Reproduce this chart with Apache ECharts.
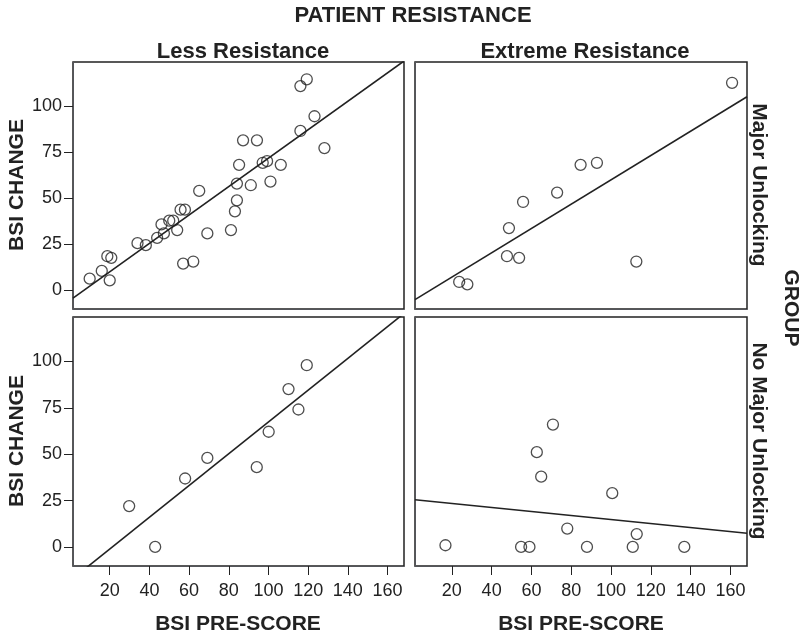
<!DOCTYPE html>
<html>
<head>
<meta charset="utf-8">
<script src="https://cdn.jsdelivr.net/npm/echarts@6/dist/echarts.min.js"></script>
<style>
  html, body { margin: 0; padding: 0; background: #fff; }
  #chart { width: 806px; height: 639px; }
</style>
</head>
<body>
<div id="chart"></div>
<script>
// BSI pre-score (x) vs BSI change (y), one array pair per panel
var lessMajorX = [9.9, 16.0, 18.8, 20.8, 20.0, 34.0, 38.2, 43.9, 46.1, 47.3, 50.0, 52.0, 54.0, 55.7, 57.9, 57.0, 62.1, 65.1, 69.2, 81.1, 83.1, 84.1, 84.1, 85.2, 87.2, 91.1, 94.2, 97.1, 99.3, 101.0, 106.2, 116.1, 116.1, 119.3, 123.2, 128.2];
var lessMajorY = [6.2, 10.4, 18.4, 17.5, 5.3, 25.5, 24.4, 28.4, 35.7, 30.8, 37.7, 37.7, 32.6, 43.7, 43.7, 14.4, 15.5, 53.9, 30.8, 32.6, 42.8, 48.8, 57.9, 68.1, 81.4, 57.0, 81.4, 69.2, 70.1, 59.0, 68.1, 86.5, 110.9, 114.6, 94.5, 77.2];
var extremeMajorX = [160.8, 84.7, 92.9, 72.9, 55.8, 48.7, 47.7, 53.8, 112.7, 23.7, 27.8];
var extremeMajorY = [112.7, 68.1, 69.2, 53.0, 47.9, 33.7, 18.4, 17.5, 15.5, 4.4, 3.1];
var lessNoMajorX = [29.8, 42.9, 58.0, 69.2, 94.1, 100.1, 110.1, 115.1, 119.3];
var lessNoMajorY = [22.0, 0, 36.9, 48.0, 43.0, 62.1, 85.1, 74.1, 98.0];
var extremeNoMajorX = [16.8, 54.8, 59.0, 62.7, 64.9, 70.8, 78.0, 87.9, 100.6, 110.9, 112.9, 136.8];
var extremeNoMajorY = [0.9, 0, 0, 51.1, 37.9, 66.0, 9.9, 0, 29.0, 0, 6.9, 0];

// fit lines: [intercept, slope] per panel (TL, TR, BL, BR)
var fitIntercept = [-5.56, -6.16, -18.3, 25.57];
var fitSlope = [0.773, 0.661, 0.857, -0.108];

var xTicks = [20, 40, 60, 80, 100, 120, 140, 160];
var yTicks = [0, 25, 50, 75, 100];
var colTitles = ['Less Resistance', 'Extreme Resistance'];
var rowTitles = ['Major Unlocking', 'No Major Unlocking'];

var xMin = 1.5, xMax = 168.3;
var yMin = -10.3, yMax = 124;

var font = '"Liberation Sans", Arial, Helvetica, sans-serif';
var ink = '#222';

var myChart = echarts.init(document.getElementById('chart'));

var grids = [
    { left: 73, top: 62, width: 331, height: 247 },
    { left: 415, top: 62, width: 332, height: 247 },
    { left: 73, top: 317, width: 331, height: 249 },
    { left: 415, top: 317, width: 332, height: 249 }
];
grids.forEach(function (g) {
    g.show = true;
    g.borderColor = ink;
    g.borderWidth = 1.5;
});

// axis pieces per panel
var xAxes = [], yAxes = [];
for (var i = 0; i < 4; i++) {
    var bottomRow = i >= 2;
    var leftCol = i % 2 === 0;
    xAxes.push({
        type: 'value', gridIndex: i, min: xMin, max: xMax,
        splitLine: { show: false },
        axisLine: { show: true, onZero: false },
        axisTick: { show: true, length: bottomRow ? 9 : 0, lineStyle: { color: ink }, customValues: xTicks },
        axisLabel: { color: bottomRow ? ink : 'rgba(0,0,0,0)', fontSize: 18, margin: 16, customValues: xTicks }
    });
    yAxes.push({
        type: 'value', gridIndex: i, min: yMin, max: yMax,
        splitLine: { show: false },
        axisLine: { show: true, onZero: false },
        axisTick: { show: true, length: leftCol ? 9 : 0, lineStyle: { color: ink }, customValues: yTicks },
        axisLabel: { color: leftCol ? ink : 'rgba(0,0,0,0)', fontSize: 18, margin: 11, customValues: yTicks }
    });
}

var panels = [
    [lessMajorX, lessMajorY],
    [extremeMajorX, extremeMajorY],
    [lessNoMajorX, lessNoMajorY],
    [extremeNoMajorX, extremeNoMajorY]
];

var series = [];
panels.forEach(function (p, i) {
    var pts = p[0].map(function (x, k) { return [x, p[1][k]]; });
    series.push({
        type: 'line', xAxisIndex: i, yAxisIndex: i,
        data: [[xMin, fitIntercept[i] + fitSlope[i] * xMin], [xMax, fitIntercept[i] + fitSlope[i] * xMax]],
        symbol: 'none', clip: true, silent: true,
        lineStyle: { color: ink, width: 1.6 },
        z: 2
    });
    series.push({
        type: 'scatter', xAxisIndex: i, yAxisIndex: i,
        data: pts,
        symbol: 'circle', symbolSize: 11,
        itemStyle: { color: 'rgba(255,255,255,0)', borderColor: ink, borderWidth: 1.3 },
        z: 3
    });
});

function label(text, x, y, rot) {
    return { type: 'text', x: x, y: y, rotation: rot,
        style: { text: text, fill: ink, font: 'bold 21px ' + font, align: 'center', verticalAlign: 'middle' } };
}

var option = {
    animation: false,
    textStyle: { fontFamily: font },
    title: [
        { text: 'PATIENT RESISTANCE', left: 408, top: 0, textAlign: 'center',
          textStyle: { color: ink, fontSize: 22, fontWeight: 'bold', fontFamily: font } },
        { text: colTitles[0], left: 238, top: 36, textAlign: 'center',
          textStyle: { color: ink, fontSize: 22, fontWeight: 'bold', fontFamily: font } },
        { text: colTitles[1], left: 580, top: 36, textAlign: 'center',
          textStyle: { color: ink, fontSize: 22, fontWeight: 'bold', fontFamily: font } }
    ],
    graphic: [
        label(rowTitles[0], 759, 185, -Math.PI / 2),
        label(rowTitles[1], 759, 441, -Math.PI / 2),
        label('GROUP', 791, 308, -Math.PI / 2),
        label('BSI CHANGE', 17, 185, Math.PI / 2),
        label('BSI CHANGE', 17, 441, Math.PI / 2),
        label('BSI PRE-SCORE', 238, 624, 0),
        label('BSI PRE-SCORE', 581, 624, 0)
    ],
    grid: grids,
    xAxis: xAxes,
    yAxis: yAxes,
    series: series
};
myChart.setOption(option);
</script>
</body>
</html>
